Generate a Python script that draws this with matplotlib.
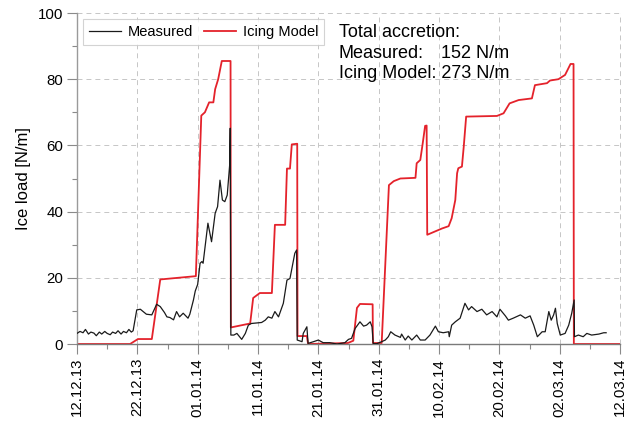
"""
Ice load on the conductor: measured vs icing model, Dec 2013 - Mar 2014
"""

import numpy as np
import matplotlib.pyplot as plt
from matplotlib.ticker import MultipleLocator

plt.rcParams['font.family'] = ['Liberation Sans', 'DejaVu Sans']

# -----------------------------
# Data (days after 12.12.13, ice load in N/m)

model_days = [0, 8.8, 10.1, 12.4, 13.8, 19.7, 20.6, 21.2, 21.9, 22.6, 22.9, 23.4, 24.0,
              25.45, 25.5, 28.7, 29.2, 30.3, 32.3, 32.8, 34.5, 34.8, 35.3, 35.6, 36.5,
              36.55, 38.1, 38.3, 44.9, 45.8, 46.4, 46.9, 49.0, 49.05, 50.5, 51.7, 52.5,
              53.6, 56.1, 56.3, 56.9, 57.3, 57.7, 57.95, 58.05, 60.5, 61.6, 62.1, 62.7,
              63.0, 63.2, 63.8, 64.1, 64.5, 69.6, 70.7, 71.7, 73.2, 75.4, 75.9, 77.9,
              78.4, 79.8, 80.9, 81.8, 82.3, 82.35, 90]
model_load = [0, 0, 1.5, 1.5, 19.5, 20.5, 69, 70, 73, 73, 77, 80, 85.5,
              85.5, 5, 6.2, 13.9, 15.4, 15.4, 36, 36, 53, 53, 60.3, 60.5,
              2.4, 2.4, 0, 0.3, 1, 10.9, 12.1, 12, 0.3, 0.3, 48, 49.2,
              50, 50.2, 54.6, 55.6, 60.6, 65.9, 66, 33, 34.9, 35.6, 38, 43.5,
              51.6, 53.1, 53.6, 59.6, 68.7, 68.9, 69.7, 72.7, 73.7, 74.2, 78.2, 78.8,
              79.6, 80, 81.3, 84.6, 84.6, 0, 0]

meas_days = [0, 0.5, 1.0, 1.4, 1.9, 2.3, 2.8, 3.2, 3.7, 4.1, 4.6, 5.0, 5.5, 5.9,
             6.4, 6.8, 7.3, 7.7, 8.2, 8.6, 9.0, 9.3, 9.9, 10.5, 11.5, 12.4, 12.7,
             13.2, 13.8, 14.5, 14.9, 15.4, 16.0, 16.5, 17.0, 17.6, 18.4, 18.7, 19.3,
             19.6, 20.0, 20.4, 20.7, 20.9, 21.7, 22.3, 22.9, 23.3, 23.7, 24.1, 24.5,
             24.9, 25.3, 25.4, 25.5, 26.0, 26.5, 27.3, 27.9, 28.4, 28.9, 30.6, 31.2,
             31.7, 32.3, 32.8, 33.4, 34.2, 34.8, 35.3, 36.1, 36.4, 36.5, 37.3, 37.5,
             38.1, 38.3, 39.2, 40.0, 40.8, 41.9, 43.1, 44.4, 45.0, 45.5, 46.1, 46.9,
             47.5, 48.0, 48.6, 48.9, 49.1, 49.7, 50.5, 51.1, 51.6, 52.0, 52.7, 53.6,
             53.8, 54.4, 54.9, 55.5, 56.3, 56.9, 57.7, 58.5, 59.4, 59.9, 60.7, 61.6,
             61.7, 62.1, 62.7, 63.5, 64.3, 64.9, 65.4, 66.3, 67.1, 67.9, 68.8, 69.6,
             70.1, 71.0, 71.5, 72.3, 73.5, 74.3, 75.1, 75.7, 76.3, 77.1, 77.6, 78.2,
             78.6, 79.0, 79.3, 79.6, 80.1, 80.9, 81.5, 82.0, 82.4, 82.45, 83.1, 83.9,
             84.5, 85.3, 86.5, 87.3, 87.7]
meas_load = [3.2, 3.8, 3.4, 4.4, 3.0, 3.6, 3.3, 2.5, 3.6, 3.0, 3.8, 3.2, 2.8, 3.6,
             3.2, 4.0, 3.0, 3.8, 3.4, 4.4, 3.6, 4.0, 10.3, 10.5, 9.0, 8.8, 10.0,
             12.0, 11.3, 9.5, 8.2, 8.0, 7.3, 9.8, 8.2, 9.3, 7.8, 9.0, 13.3,
             16.0, 18.0, 24.4, 24.9, 24.4, 36.5, 30.9, 39.5, 41.5, 49.5, 43.5, 43.0,
             45.0, 54.0, 65.2, 2.7, 2.7, 3.2, 1.4, 3.2, 5.7, 6.2, 6.5, 7.2,
             8.2, 7.8, 9.8, 8.2, 12.3, 19.3, 19.8, 27.4, 28.4, 1.2, 0.7, 3.2,
             5.2, 0.2, 0.7, 1.2, 0.4, 0.4, 0.0, 0.4, 1.4, 1.7, 4.7, 6.7,
             5.4, 5.7, 6.7, 5.2, 0.1, 0.1, 0.7, 1.2, 2.2, 3.7, 2.7, 2.0,
             3.0, 1.2, 2.4, 1.2, 2.7, 1.2, 1.2, 2.7, 5.4, 3.7, 3.4, 3.7,
             2.2, 5.7, 6.7, 7.8, 12.3, 10.3, 11.3, 9.8, 10.5, 8.8, 9.8, 8.2,
             10.5, 8.5, 7.2, 7.8, 8.8, 7.8, 8.5, 5.7, 2.2, 3.7, 3.7, 9.8,
             7.2, 8.8, 10.8, 6.2, 2.7, 3.2, 5.7, 9.3, 13.3, 2.2, 2.7, 2.2,
             3.2, 2.7, 3.0, 3.4, 3.4]

tick_days = [0, 10, 20, 30, 40, 50, 60, 70, 80, 90]
tick_labels = ['12.12.13', '22.12.13', '01.01.14', '11.01.14', '21.01.14',
               '31.01.14', '10.02.14', '20.02.14', '02.03.14', '12.03.14']

total_measured = 152
total_model = 273

# -----------------------------

fig = plt.figure(figsize=(6.29, 4.23), dpi=100)
ax = fig.add_axes([77 / 629, 1 - 344 / 423, 543 / 629, 331 / 423])

ax.plot(meas_days, meas_load, color='#1a1a1a', lw=0.9, label='Measured', zorder=3)
ax.plot(model_days, model_load, color='#e4222b', lw=1.3, label='Icing Model', zorder=2)

ax.set_xlim(0, 90)
ax.set_ylim(0, 100)

# Ticks
ax.set_xticks(tick_days)
ax.set_xticklabels(tick_labels, rotation=90)
ax.xaxis.set_minor_locator(MultipleLocator(5))
ax.yaxis.set_major_locator(MultipleLocator(20))
ax.yaxis.set_minor_locator(MultipleLocator(10))
ax.tick_params(axis='both', which='major', length=7, width=0.8, color='#8a8a8a',
               labelsize=10.8, pad=3)
ax.tick_params(axis='both', which='minor', length=3.5, width=0.8, color='#8a8a8a')

# Spines - only left and bottom
for side in ['top', 'right']:
    ax.spines[side].set_visible(False)
ax.spines['left'].set_color('#9a9a9a')
ax.spines['bottom'].set_color('#7a7a7a')
ax.spines['left'].set_linewidth(1.0)
ax.spines['bottom'].set_linewidth(1.0)

# Grid - dashed, also at the upper / right limits
grid_ls = (0, (5.1, 4.1))
for d in tick_days[1:]:
    ax.axvline(d, color='#c6c6c6', lw=0.7, ls=grid_ls, zorder=0, clip_on=False)
for v in [20, 40, 60, 80, 100]:
    ax.axhline(v, color='#c6c6c6', lw=0.7, ls=grid_ls, zorder=0, clip_on=False)

ax.set_ylabel('Ice load [N/m]', fontsize=12, labelpad=5)

leg = ax.legend(loc='upper left', ncol=2, fontsize=10.5, frameon=True, fancybox=False,
                handlelength=2.2, handletextpad=0.5, columnspacing=0.7,
                borderpad=0.4, borderaxespad=0.4, bbox_to_anchor=(0, 1))
leg.get_frame().set_edgecolor('#c8c8c8')
leg.get_frame().set_linewidth(0.8)

# Annotation with total accretion
ax.text(0.4825, 0.9266, 'Total accretion:', transform=ax.transAxes, fontsize=13,
        va='baseline')
ax.text(0.4825, 0.8631, 'Measured:', transform=ax.transAxes, fontsize=13, va='baseline')
t_model = ax.text(0.4825, 0.8027, f'Icing Model: {total_model} N/m', transform=ax.transAxes,
                  fontsize=13, va='baseline')

# Line up the measured value with the model value
fig.canvas.draw()
right_px = t_model.get_window_extent().x1
right_ax = ax.transAxes.inverted().transform((right_px, 0))[0]
ax.text(right_ax, 0.8631, f'{total_measured} N/m', transform=ax.transAxes, fontsize=13,
        va='baseline', ha='right')

plt.savefig('out.png', dpi=100)
